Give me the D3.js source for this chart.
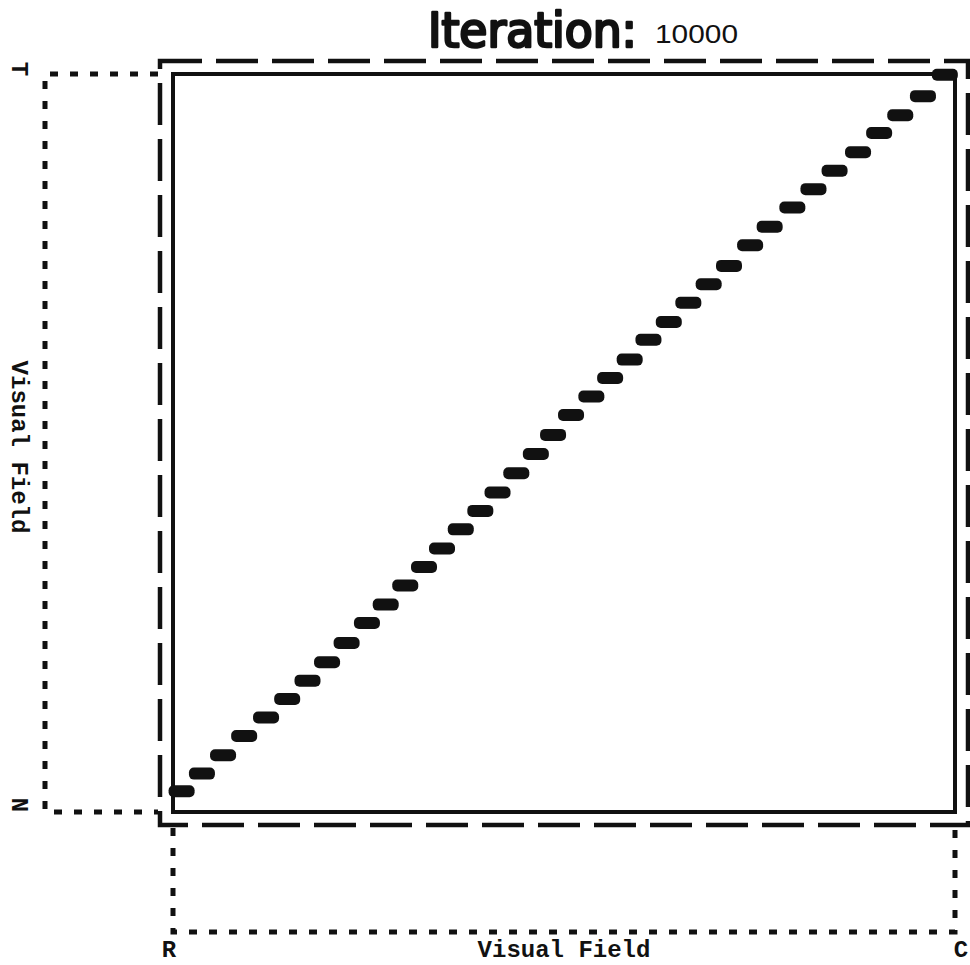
<!DOCTYPE html>
<html>
<head>
<meta charset="utf-8">
<script src="https://cdn.jsdelivr.net/npm/d3@7"></script>
<style>
  body { margin: 0; background: #fff; }
  svg { display: block; }
</style>
</head>
<body>
<svg id="map" width="970" height="965"></svg>
<script>
// positions of each terminal, in percent of the visual field
const fieldX = [1.1, 3.7, 6.4, 9.1, 11.9, 14.6, 17.2, 19.7, 22.2, 24.8,
                27.2, 29.7, 32.1, 34.4, 36.8, 39.3, 41.5, 43.9, 46.4, 48.6,
                50.9, 53.5, 55.9, 58.4, 60.8, 63.4, 65.9, 68.5, 71.1, 73.8,
                76.3, 79.2, 81.9, 84.6, 87.6, 90.3, 93.0, 95.9, 98.7];
const fieldY = [2.8, 5.2, 7.7, 10.3, 12.8, 15.3, 17.8, 20.3, 22.9, 25.6,
                28.1, 30.7, 33.2, 35.7, 38.3, 40.8, 43.3, 45.9, 48.5, 51.1,
                53.8, 56.3, 58.8, 61.3, 64.0, 66.4, 69.0, 71.5, 74.0, 76.8,
                79.3, 81.9, 84.4, 86.9, 89.4, 92.0, 94.4, 97.0, 99.9];
const leftLabels = ["T", "N"];     // top, bottom
const bottomLabels = ["R", "C"];   // left, right
const axisTitle = "Visual Field";
const titleText = "Iteration:";
const iteration = 10000;

const ink = "#111";
const svg = d3.select("#map");

var x = d3.scaleLinear().domain([0, 100]).range([173, 955]),
    y = d3.scaleLinear().domain([0, 100]).range([812, 74]);

// inner solid frame
svg.append("rect")
   .attr("x", x(0)).attr("y", y(100))
   .attr("width", x(100) - x(0)).attr("height", y(0) - y(100))
   .attr("fill", "none").attr("stroke", ink).attr("stroke-width", 4);

// outer dashed frame
const pad = 13;
svg.append("rect")
   .attr("x", x(0) - pad).attr("y", y(100) - pad)
   .attr("width", x(100) - x(0) + 2 * pad).attr("height", y(0) - y(100) + 2 * pad)
   .attr("fill", "none").attr("stroke", ink).attr("stroke-width", 4.5)
   .attr("stroke-dasharray", "42,14");

// dotted brackets
const dotted = g => g.attr("fill", "none").attr("stroke", ink)
                     .attr("stroke-width", 5).attr("stroke-dasharray", "8,12");
const leftX = 45, bottomY = 932;
svg.append("path").call(dotted)
   .attr("d", d3.line()([[x(0) - pad - 2, y(100)], [leftX, y(100)], [leftX, y(0)], [x(0) - pad - 2, y(0)]]));
svg.append("path").call(dotted)
   .attr("d", d3.line()([[x(0), y(0) + pad + 3], [x(0), bottomY], [x(100), bottomY], [x(100), y(0) + pad + 3]]));

// the map itself
svg.selectAll("rect.term")
   .data(d3.zip(fieldX, fieldY))
   .join("rect")
   .attr("class", "term")
   .attr("x", d => x(d[0]) - 13).attr("y", d => y(d[1]) - 6)
   .attr("width", 26).attr("height", 12).attr("rx", 5)
   .attr("fill", ink);

// labels
const mono = "'Liberation Mono', 'DejaVu Sans Mono', monospace";
svg.selectAll("text.left")
   .data(leftLabels)
   .join("text")
   .attr("class", "left")
   .attr("transform", (d, i) => `translate(12,${i ? y(0) - 7 : y(100) - 5}) rotate(90)`)
   .attr("text-anchor", "middle")
   .style("font", `bold 24px ${mono}`).attr("fill", ink)
   .text(d => d);

svg.append("text")
   .attr("transform", `translate(12,${(y(0) + y(100)) / 2 + 4}) rotate(90)`)
   .attr("text-anchor", "middle")
   .style("font", `bold 24px ${mono}`).attr("fill", ink)
   .text(axisTitle);

svg.selectAll("text.bottom")
   .data(bottomLabels)
   .join("text")
   .attr("class", "bottom")
   .attr("x", (d, i) => i ? x(100) + 6 : x(0) - 4).attr("y", 957)
   .attr("text-anchor", "middle")
   .style("font", `bold 24px ${mono}`).attr("fill", ink)
   .text(d => d);

svg.append("text")
   .attr("x", (x(0) + x(100)) / 2).attr("y", 957)
   .attr("text-anchor", "middle")
   .style("font", `bold 24px ${mono}`).attr("fill", ink)
   .text(axisTitle);

// title
svg.append("text")
   .attr("x", 428).attr("y", 47)
   .attr("textLength", 209).attr("lengthAdjust", "spacingAndGlyphs")
   .style("font", "48px 'DejaVu Sans Condensed', 'DejaVu Sans', sans-serif")
   .attr("fill", ink).attr("stroke", ink).attr("stroke-width", 2.5)
   .attr("stroke-linejoin", "round")
   .text(titleText);

svg.append("text")
   .attr("x", 655).attr("y", 43)
   .attr("textLength", 83).attr("lengthAdjust", "spacingAndGlyphs")
   .style("font", "26px 'Liberation Sans', Arial, sans-serif")
   .attr("fill", ink)
   .text(iteration);
</script>
</body>
</html>
